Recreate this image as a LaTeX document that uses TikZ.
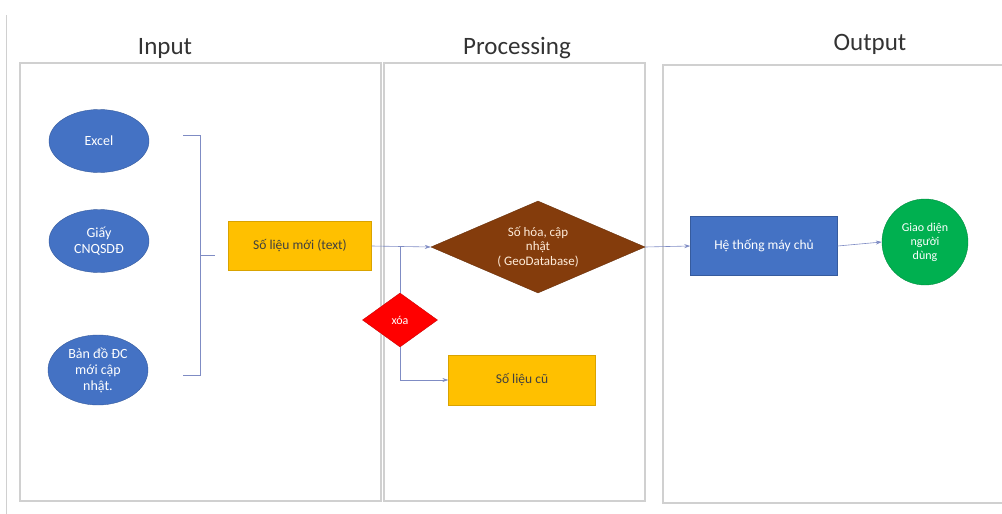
\documentclass[tikz,border=0pt]{standalone}
\usepackage{fontspec}
\setmainfont{Carlito}
\usetikzlibrary{shapes.geometric,arrows.meta}

\definecolor{xanh}{HTML}{4472C4}
\definecolor{vang}{HTML}{FFC000}
\definecolor{nau}{HTML}{843C0C}
\definecolor{do}{HTML}{FF0000}
\definecolor{xanhla}{HTML}{00B050}
\definecolor{duong}{HTML}{7F8CC4}
\definecolor{khung}{HTML}{D0D0D0}

\tikzset{
    khungbox/.style={draw=khung,line width=1.3pt},
    tieude/.style={font=\fontsize{25}{28}\selectfont,text=black!80},
    nguon/.style={ellipse,fill=xanh,draw=xanh!80!black,text=white,align=center,
        minimum width=100pt,minimum height=63pt,inner sep=0pt,font=\fontsize{14}{16}\selectfont},
    solieu/.style={rectangle,fill=vang,draw=vang!85!black,text=black!75,align=center,
        font=\fontsize{13.5}{16}\selectfont},
    thoi/.style={diamond,inner sep=0pt,align=center,font=\fontsize{13.5}{15}\selectfont},
    noi/.style={draw=duong,line width=0.6pt},
    muiten/.style={noi,-{Stealth[length=6pt,width=4pt]}}
}

\begin{document}
\begin{tikzpicture}[x=1pt,y=-1pt]
    \useasboundingbox (0,0) rectangle (1002,514);
    \draw[khung,line width=1pt] (6,15) -- (6,514);

    \draw[khungbox] (20,63) rectangle (381,501);
    \draw[khungbox] (384,63) rectangle (645,501);
    \draw[khungbox] (1006,65) -- (663,65) -- (663,503) -- (1006,503);

    \node[tieude] (input) at (165,48) {Input};
    \node[tieude] (processing) at (517,48) {Processing};
    \node[tieude] (output) at (870,44) {Output};

    \node[nguon] (excel) at (99,141) {Excel};
    \node[nguon] (giay) at (99,241) {Giấy\\CNQSDĐ};
    \node[nguon,minimum height=70pt] (bando) at (98,370) {Bản đồ ĐC\\mới cập\\nhật.};

    \coordinate (ngoac1) at (183,135);
    \coordinate (ngoac2) at (183,375);
    \coordinate (ngoac3) at (215,255);
    \draw[noi] (ngoac1) -- +(17,0) -- (200,375) -- (ngoac2);
    \draw[noi] (200,255) -- (ngoac3);

    \node[solieu,minimum width=143pt,minimum height=49pt] (moi) at (300,246) {Số liệu mới (text)};
    \node[thoi,aspect=2.3,fill=nau,draw=nau!80!black,text=orange!15,minimum width=214pt,minimum height=92pt,
        font=\fontsize{13}{14.5}\selectfont] (sohoa) at (538,247) {Số hóa, cập\\nhật\\( GeoDatabase)};
    \node[thoi,fill=do,draw=do!80!black,text=white,minimum width=75pt,minimum height=54pt,
        font=\fontsize{12}{13}\selectfont] (xoa) at (400,320) {xóa};
    \node[solieu,minimum width=147pt,minimum height=50pt] (cu) at (522,380) {Số liệu cũ};

    \node[rectangle,fill=xanh,draw=xanh!80!black,text=white,minimum width=147pt,minimum height=59pt,
        font=\fontsize{13.5}{16}\selectfont] (may) at (764,246) {Hệ thống máy chủ};
    \node[circle,fill=xanhla,draw=xanhla!80!black,text=white,minimum size=86pt,inner sep=0pt,align=center,
        font=\fontsize{12}{14}\selectfont] (giaodien) at (925,242) {Giao diện\\người\\dùng};

    \draw[muiten] (moi.east) -- (sohoa.west);
    \draw[noi] (moi.east -| xoa.north) -- (xoa.north);
    \draw[muiten] (xoa.south) |- (cu.west);
    \draw[muiten] (sohoa.east) -- (may.west);
    \draw[muiten] (may.east) -- (giaodien.west);
\end{tikzpicture}
\end{document}
